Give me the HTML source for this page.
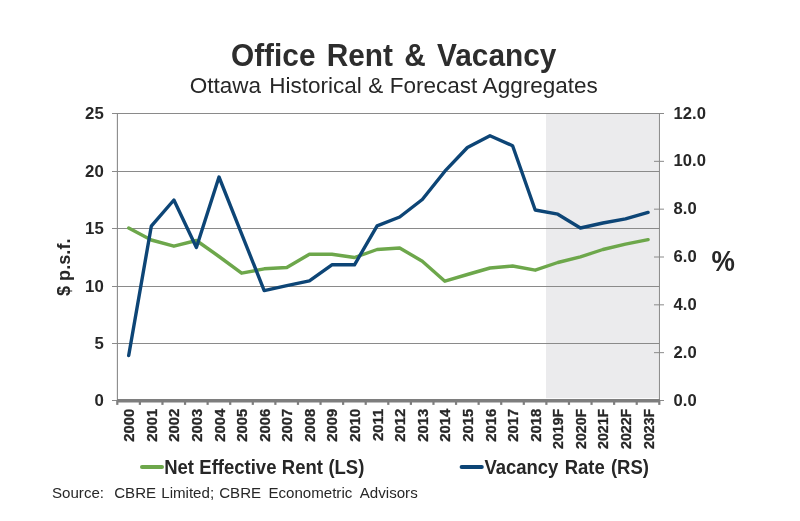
<!DOCTYPE html>
<html lang="en"><head><meta charset="utf-8"><title>Office Rent &amp; Vacancy</title>
<style>html,body{margin:0;padding:0;background:#fff}body{width:800px;height:521px;overflow:hidden}svg{display:block}text{font-family:"Liberation Sans",Arial,sans-serif;fill:#272727}.b{font-weight:bold}.xl{stroke:#272727;stroke-width:0.3px}</style></head><body>
<svg width="800" height="521" viewBox="0 0 800 521">
<rect width="800" height="521" fill="#ffffff"/>
<rect x="546.0" y="114" width="112.4" height="284.2" fill="#ebebed"/>
<line x1="112.0" y1="343.5" x2="659.5" y2="343.5" stroke="#8a8a8a" stroke-width="1"/>
<line x1="112.0" y1="286.5" x2="659.5" y2="286.5" stroke="#8a8a8a" stroke-width="1"/>
<line x1="112.0" y1="228.5" x2="659.5" y2="228.5" stroke="#8a8a8a" stroke-width="1"/>
<line x1="112.0" y1="171.5" x2="659.5" y2="171.5" stroke="#8a8a8a" stroke-width="1"/>
<line x1="112.0" y1="113.5" x2="659.5" y2="113.5" stroke="#8a8a8a" stroke-width="1"/>
<line x1="112.0" y1="400.5" x2="118.0" y2="400.5" stroke="#8a8a8a" stroke-width="1"/>
<line x1="117.4" y1="113.0" x2="117.4" y2="401.5" stroke="#8a8a8a" stroke-width="1.1"/>
<line x1="659.4" y1="113.0" x2="659.4" y2="401.5" stroke="#8a8a8a" stroke-width="1.1"/>
<line x1="654.0" y1="400.50" x2="664.0" y2="400.50" stroke="#8a8a8a" stroke-width="1"/>
<line x1="654.0" y1="352.67" x2="664.0" y2="352.67" stroke="#8a8a8a" stroke-width="1"/>
<line x1="654.0" y1="304.83" x2="664.0" y2="304.83" stroke="#8a8a8a" stroke-width="1"/>
<line x1="654.0" y1="257.00" x2="664.0" y2="257.00" stroke="#8a8a8a" stroke-width="1"/>
<line x1="654.0" y1="209.17" x2="664.0" y2="209.17" stroke="#8a8a8a" stroke-width="1"/>
<line x1="654.0" y1="161.33" x2="664.0" y2="161.33" stroke="#8a8a8a" stroke-width="1"/>
<line x1="654.0" y1="113.50" x2="664.0" y2="113.50" stroke="#8a8a8a" stroke-width="1"/>
<line x1="117.0" y1="400.8" x2="660.0" y2="400.8" stroke="#7e7e7e" stroke-width="3.4"/>
<line x1="117.30" y1="400.5" x2="117.30" y2="404.9" stroke="#7e7e7e" stroke-width="2.2"/>
<line x1="139.88" y1="400.5" x2="139.88" y2="404.9" stroke="#7e7e7e" stroke-width="2.2"/>
<line x1="162.47" y1="400.5" x2="162.47" y2="404.9" stroke="#7e7e7e" stroke-width="2.2"/>
<line x1="185.05" y1="400.5" x2="185.05" y2="404.9" stroke="#7e7e7e" stroke-width="2.2"/>
<line x1="207.63" y1="400.5" x2="207.63" y2="404.9" stroke="#7e7e7e" stroke-width="2.2"/>
<line x1="230.22" y1="400.5" x2="230.22" y2="404.9" stroke="#7e7e7e" stroke-width="2.2"/>
<line x1="252.80" y1="400.5" x2="252.80" y2="404.9" stroke="#7e7e7e" stroke-width="2.2"/>
<line x1="275.38" y1="400.5" x2="275.38" y2="404.9" stroke="#7e7e7e" stroke-width="2.2"/>
<line x1="297.97" y1="400.5" x2="297.97" y2="404.9" stroke="#7e7e7e" stroke-width="2.2"/>
<line x1="320.55" y1="400.5" x2="320.55" y2="404.9" stroke="#7e7e7e" stroke-width="2.2"/>
<line x1="343.13" y1="400.5" x2="343.13" y2="404.9" stroke="#7e7e7e" stroke-width="2.2"/>
<line x1="365.72" y1="400.5" x2="365.72" y2="404.9" stroke="#7e7e7e" stroke-width="2.2"/>
<line x1="388.30" y1="400.5" x2="388.30" y2="404.9" stroke="#7e7e7e" stroke-width="2.2"/>
<line x1="410.88" y1="400.5" x2="410.88" y2="404.9" stroke="#7e7e7e" stroke-width="2.2"/>
<line x1="433.47" y1="400.5" x2="433.47" y2="404.9" stroke="#7e7e7e" stroke-width="2.2"/>
<line x1="456.05" y1="400.5" x2="456.05" y2="404.9" stroke="#7e7e7e" stroke-width="2.2"/>
<line x1="478.63" y1="400.5" x2="478.63" y2="404.9" stroke="#7e7e7e" stroke-width="2.2"/>
<line x1="501.22" y1="400.5" x2="501.22" y2="404.9" stroke="#7e7e7e" stroke-width="2.2"/>
<line x1="523.80" y1="400.5" x2="523.80" y2="404.9" stroke="#7e7e7e" stroke-width="2.2"/>
<line x1="546.38" y1="400.5" x2="546.38" y2="404.9" stroke="#7e7e7e" stroke-width="2.2"/>
<line x1="568.97" y1="400.5" x2="568.97" y2="404.9" stroke="#7e7e7e" stroke-width="2.2"/>
<line x1="591.55" y1="400.5" x2="591.55" y2="404.9" stroke="#7e7e7e" stroke-width="2.2"/>
<line x1="614.13" y1="400.5" x2="614.13" y2="404.9" stroke="#7e7e7e" stroke-width="2.2"/>
<line x1="636.72" y1="400.5" x2="636.72" y2="404.9" stroke="#7e7e7e" stroke-width="2.2"/>
<line x1="659.30" y1="400.5" x2="659.30" y2="404.9" stroke="#7e7e7e" stroke-width="2.2"/>
<polyline points="128.7,228.0 151.3,240.0 173.9,246.2 196.4,240.5 219.0,256.5 241.6,273.2 264.2,268.8 286.8,267.5 309.4,254.2 331.9,254.2 354.5,257.5 377.1,249.5 399.7,248.0 422.3,261.2 444.9,281.2 467.4,274.5 490.0,268.0 512.6,266.0 535.2,270.2 557.8,262.5 580.4,256.8 602.9,249.5 625.5,244.2 648.1,239.6" fill="none" stroke="#6da74b" stroke-width="3.4" stroke-linejoin="round" stroke-linecap="round"/>
<polyline points="128.7,355.5 151.3,226.2 173.9,200.0 196.4,247.5 219.0,177.0 241.6,233.8 264.2,290.6 286.8,285.7 309.4,280.9 331.9,264.8 354.5,264.8 377.1,225.8 399.7,217.0 422.3,199.5 444.9,171.2 467.4,147.5 490.0,135.8 512.6,145.7 535.2,210.0 557.8,214.2 580.4,228.0 602.9,223.0 625.5,218.8 648.1,212.4" fill="none" stroke="#0d4576" stroke-width="3.4" stroke-linejoin="round" stroke-linecap="round"/>
<text class="b" fill="#2d2d2d" style="fill:#2d2d2d" transform="translate(231,65.5) scale(1,1.03)" font-size="29.8" word-spacing="3">Office Rent &amp; Vacancy</text>
<text x="189.7" y="93.1" font-size="22.5" word-spacing="0.3">Ottawa <tspan dx="1.6">Historical</tspan> &amp; Forecast Aggregates</text>
<text class="b" transform="translate(103.8,406.0) scale(1,1.01)" font-size="16.8" text-anchor="end">0</text>
<text class="b" transform="translate(103.8,349.0) scale(1,1.01)" font-size="16.8" text-anchor="end">5</text>
<text class="b" transform="translate(103.8,292.0) scale(1,1.01)" font-size="16.8" text-anchor="end">10</text>
<text class="b" transform="translate(103.8,234.0) scale(1,1.01)" font-size="16.8" text-anchor="end">15</text>
<text class="b" transform="translate(103.8,177.0) scale(1,1.01)" font-size="16.8" text-anchor="end">20</text>
<text class="b" transform="translate(103.8,119.0) scale(1,1.01)" font-size="16.8" text-anchor="end">25</text>
<text class="b" transform="translate(673.6,405.6) scale(1,1.04)" font-size="16.6">0.0</text>
<text class="b" transform="translate(673.6,357.8) scale(1,1.04)" font-size="16.6">2.0</text>
<text class="b" transform="translate(673.6,309.9) scale(1,1.04)" font-size="16.6">4.0</text>
<text class="b" transform="translate(673.6,262.1) scale(1,1.04)" font-size="16.6">6.0</text>
<text class="b" transform="translate(673.6,214.3) scale(1,1.04)" font-size="16.6">8.0</text>
<text class="b" transform="translate(673.6,166.4) scale(1,1.04)" font-size="16.6">10.0</text>
<text class="b" transform="translate(673.6,118.6) scale(1,1.04)" font-size="16.6">12.0</text>
<text class="b" transform="translate(70.3,296.1) rotate(-90)" font-size="18.2">$ p.s.f.</text>
<text class="b" transform="translate(711.4,270.9) scale(1,1.12)" font-size="26.3">%</text>
<text class="b xl" transform="translate(134.2,408.8) rotate(-90)" font-size="14.8" text-anchor="end">2000</text>
<text class="b xl" transform="translate(156.8,408.8) rotate(-90)" font-size="14.8" text-anchor="end">2001</text>
<text class="b xl" transform="translate(179.4,408.8) rotate(-90)" font-size="14.8" text-anchor="end">2002</text>
<text class="b xl" transform="translate(201.9,408.8) rotate(-90)" font-size="14.8" text-anchor="end">2003</text>
<text class="b xl" transform="translate(224.5,408.8) rotate(-90)" font-size="14.8" text-anchor="end">2004</text>
<text class="b xl" transform="translate(247.1,408.8) rotate(-90)" font-size="14.8" text-anchor="end">2005</text>
<text class="b xl" transform="translate(269.7,408.8) rotate(-90)" font-size="14.8" text-anchor="end">2006</text>
<text class="b xl" transform="translate(292.3,408.8) rotate(-90)" font-size="14.8" text-anchor="end">2007</text>
<text class="b xl" transform="translate(314.9,408.8) rotate(-90)" font-size="14.8" text-anchor="end">2008</text>
<text class="b xl" transform="translate(337.4,408.8) rotate(-90)" font-size="14.8" text-anchor="end">2009</text>
<text class="b xl" transform="translate(360.0,408.8) rotate(-90)" font-size="14.8" text-anchor="end">2010</text>
<text class="b xl" transform="translate(382.6,408.8) rotate(-90)" font-size="14.8" text-anchor="end">2011</text>
<text class="b xl" transform="translate(405.2,408.8) rotate(-90)" font-size="14.8" text-anchor="end">2012</text>
<text class="b xl" transform="translate(427.8,408.8) rotate(-90)" font-size="14.8" text-anchor="end">2013</text>
<text class="b xl" transform="translate(450.4,408.8) rotate(-90)" font-size="14.8" text-anchor="end">2014</text>
<text class="b xl" transform="translate(472.9,408.8) rotate(-90)" font-size="14.8" text-anchor="end">2015</text>
<text class="b xl" transform="translate(495.5,408.8) rotate(-90)" font-size="14.8" text-anchor="end">2016</text>
<text class="b xl" transform="translate(518.1,408.8) rotate(-90)" font-size="14.8" text-anchor="end">2017</text>
<text class="b xl" transform="translate(540.7,408.8) rotate(-90)" font-size="14.8" text-anchor="end">2018</text>
<text class="b xl" transform="translate(563.3,408.8) rotate(-90)" font-size="14.8" text-anchor="end" textLength="40.1" lengthAdjust="spacingAndGlyphs">2019F</text>
<text class="b xl" transform="translate(585.9,408.8) rotate(-90)" font-size="14.8" text-anchor="end" textLength="40.1" lengthAdjust="spacingAndGlyphs">2020F</text>
<text class="b xl" transform="translate(608.4,408.8) rotate(-90)" font-size="14.8" text-anchor="end" textLength="40.1" lengthAdjust="spacingAndGlyphs">2021F</text>
<text class="b xl" transform="translate(631.0,408.8) rotate(-90)" font-size="14.8" text-anchor="end" textLength="40.1" lengthAdjust="spacingAndGlyphs">2022F</text>
<text class="b xl" transform="translate(653.6,408.8) rotate(-90)" font-size="14.8" text-anchor="end" textLength="40.1" lengthAdjust="spacingAndGlyphs">2023F</text>
<line x1="142" y1="467" x2="162" y2="467" stroke="#6da74b" stroke-width="4" stroke-linecap="round"/>
<text class="b" transform="translate(164.15,473.8) scale(1,1.05)" font-size="18.5" word-spacing="0.3">Net Effective Rent (LS)</text>
<line x1="461.6" y1="467" x2="481.8" y2="467" stroke="#0d4576" stroke-width="4" stroke-linecap="round"/>
<text class="b" transform="translate(484.4,473.8) scale(1,1.05)" font-size="18.5" word-spacing="1.1">Vacancy Rate (RS)</text>
<text x="52" y="498" font-size="15.1" word-spacing="0.9" xml:space="preserve" style="white-space:pre">Source:  CBRE Limited; CBRE <tspan x="268.4">Econometric</tspan> <tspan x="359.8">Advisors</tspan></text>
</svg></body></html>
